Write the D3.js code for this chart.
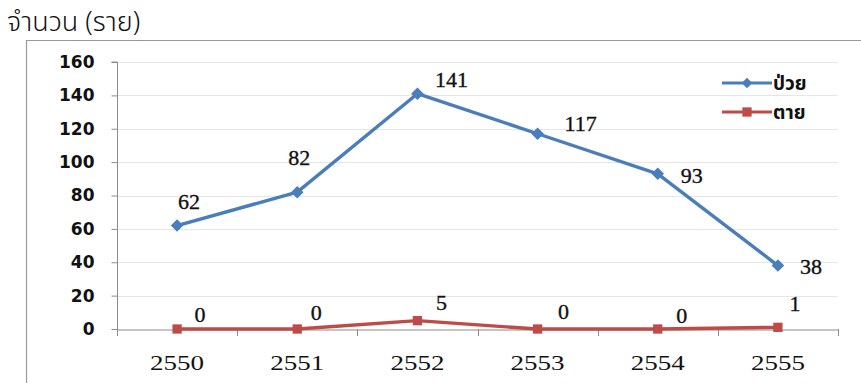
<!DOCTYPE html>
<html>
<head>
<meta charset="utf-8">
<script src="https://cdn.jsdelivr.net/npm/d3@7"></script>
<style>
  html, body { margin: 0; padding: 0; background: #fff; }
  svg { display: block; }
</style>
</head>
<body>
<svg id="chart" width="861" height="383"></svg>
<script>
// Reported cases by year (Buddhist Era)
const years = ["2550", "2551", "2552", "2553", "2554", "2555"];
const sick = [62, 82, 141, 117, 93, 38];
const dead = [0, 0, 5, 0, 0, 1];
const yTicks = [0, 20, 40, 60, 80, 100, 120, 140, 160];
const seriesNames = ["ป่วย", "ตาย"];
const seriesColors = ["#4a7ebb", "#be4b48"];
// label nudges (px) relative to each point
const sickLabelNudge = [[12, -17], [2, -27], [34, -7], [43, -3], [34, 9], [33, 8]];
const deadLabelNudge = [[23, -7], [19, -9], [24, -11], [26, -10], [24, -6], [17, -16]];

const svg = d3.select("#chart");
const W = 861, H = 383;
const m = { left: 117, right: 23, top: 62, bottom: 54 };

// title
svg.append("text")
  .attr("x", 7).attr("y", 31)
  .attr("font-family", "'Noto Sans Thai', 'Noto Sans', sans-serif")
  .attr("font-size", 27).attr("font-weight", 300).attr("fill", "#111")
  .text("จำนวน (ราย)");

// chart frame
svg.append("path")
  .attr("d", `M26.5,${H} V40.5 H${W}`)
  .attr("fill", "none").attr("stroke", "#9a9a9a").attr("stroke-width", 1.2);

const x = d3.scaleBand().domain(years).range([m.left, W - m.right]);
const y = d3.scaleLinear().domain([0, 160]).range([H - m.bottom, m.top]);
const cx = d => x(d) + x.bandwidth() / 2;

// gridlines
svg.append("g").selectAll("line").data(yTicks.filter(t => t > 0)).join("line")
  .attr("x1", m.left).attr("x2", W - m.right)
  .attr("y1", d => Math.round(y(d)) + 0.5).attr("y2", d => Math.round(y(d)) + 0.5)
  .attr("stroke", "#e6e6e6").attr("stroke-width", 1);

// y axis
const yAxis = svg.append("g")
  .attr("transform", `translate(${m.left + 0.5},0)`)
  .call(d3.axisLeft(y).tickValues(yTicks).tickSize(6).tickPadding(17));
yAxis.selectAll("path, line").attr("stroke", "#8c8c8c");
yAxis.select(".domain").attr("d", `M-6,${y(160)}H0V${y(0)}`);
yAxis.selectAll("text")
  .attr("font-family", "'DejaVu Sans', sans-serif")
  .attr("font-weight", "bold").attr("font-size", 17).attr("fill", "#111");

// x axis
const xAxis = svg.append("g")
  .attr("transform", `translate(0,${Math.round(y(0)) + 0.5})`)
  .call(d3.axisBottom(x).tickSize(0).tickPadding(24));
xAxis.select(".domain").attr("stroke", "#8c8c8c");
xAxis.selectAll("text")
  .attr("dy", null).attr("y", 40)
  .attr("font-family", "'Liberation Serif', serif")
  .attr("font-size", 21).attr("fill", "#111")
  .attr("textLength", 54).attr("lengthAdjust", "spacingAndGlyphs");
svg.append("g").selectAll("line").data(d3.range(years.length + 1)).join("line")
  .attr("x1", i => Math.round(m.left + i * x.bandwidth()) + 0.5)
  .attr("x2", i => Math.round(m.left + i * x.bandwidth()) + 0.5)
  .attr("y1", Math.round(y(0))).attr("y2", Math.round(y(0)) + 7)
  .attr("stroke", "#8c8c8c");

const line = d3.line().x((d, i) => cx(years[i])).y(d => y(d));

function drawSeries(vals, color, shape, size, nudge) {
  svg.append("path").datum(vals)
    .attr("d", line).attr("fill", "none")
    .attr("stroke", color).attr("stroke-width", 3.4).attr("stroke-linejoin", "round");
  svg.append("g").selectAll("path").data(vals).join("path")
    .attr("transform", (d, i) => `translate(${cx(years[i])},${y(d)})`)
    .attr("d", d3.symbol().type(shape).size(size))
    .attr("fill", color);
  svg.append("g").selectAll("text").data(vals).join("text")
    .attr("x", (d, i) => cx(years[i]) + nudge[i][0])
    .attr("y", (d, i) => y(d) + nudge[i][1])
    .attr("text-anchor", "middle")
    .attr("font-family", "'Liberation Serif', serif")
    .attr("font-size", 22).attr("fill", "#111")
    .attr("stroke", "#111").attr("stroke-width", 0.35)
    .text(d => d);
}

drawSeries(sick, seriesColors[0], d3.symbolDiamond2, 100, sickLabelNudge);
drawSeries(dead, seriesColors[1], d3.symbolSquare2, 110, deadLabelNudge);

// legend
const legend = svg.append("g").attr("transform", "translate(722,0)");
const legendY = [83, 112];
const shapes = [d3.symbolDiamond2, d3.symbolSquare2];
seriesNames.forEach((name, i) => {
  const g = legend.append("g").attr("transform", `translate(0,${legendY[i]})`);
  g.append("line").attr("x1", 0).attr("x2", 50).attr("stroke", seriesColors[i]).attr("stroke-width", 3);
  g.append("path").attr("transform", "translate(25,0)")
    .attr("d", d3.symbol().type(shapes[i]).size(i ? 110 : 70)).attr("fill", seriesColors[i]);
  g.append("text").attr("x", 51).attr("y", 7)
    .attr("font-family", "'Noto Sans Thai', 'Noto Sans', sans-serif")
    .attr("font-weight", "bold").attr("font-size", 19).attr("fill", "#111")
    .text(name);
});
</script>
</body>
</html>
